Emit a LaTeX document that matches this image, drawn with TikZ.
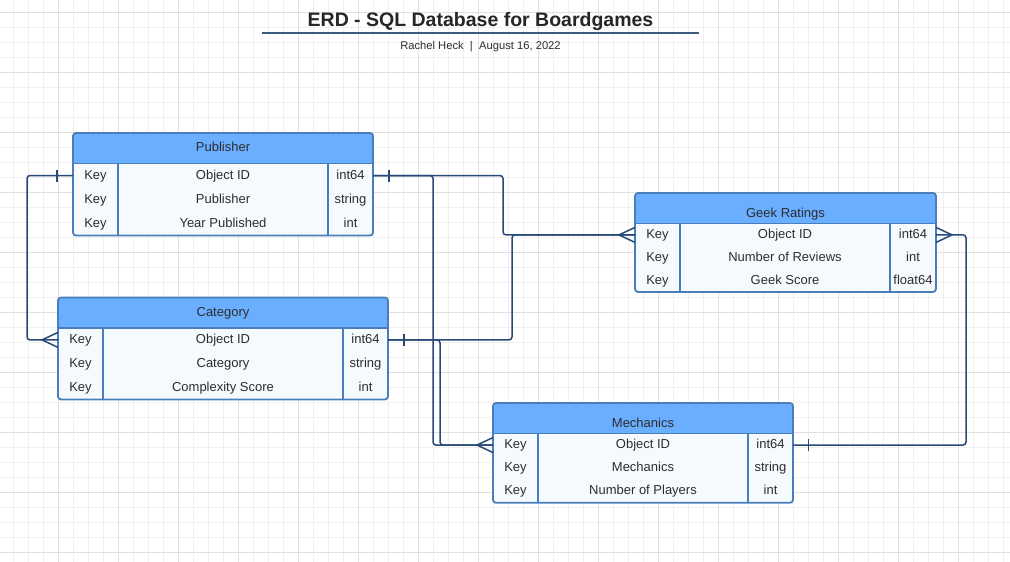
\documentclass[tikz,border=0pt]{standalone}
\usepackage{fontspec}
\setmainfont{Liberation Sans}
\usetikzlibrary{calc}
\definecolor{hdrblue}{RGB}{106,174,255}
\definecolor{bodyblue}{RGB}{245,250,255}
\definecolor{borderblue}{RGB}{73,126,186}
\definecolor{connblue}{RGB}{40,74,118}
\definecolor{titleline}{RGB}{61,91,128}
\definecolor{txtgray}{RGB}{45,45,45}
\definecolor{titlegray}{RGB}{38,38,38}
\definecolor{gridminor}{RGB}{240,240,240}
\definecolor{gridmajor}{RGB}{224,224,224}

\tikzset{
  tablebody/.style={fill=bodyblue, rounded corners=3pt, inner sep=0pt, outer sep=0pt},
  tableline/.style={draw=borderblue, line width=1.6pt},
  tableborder/.style={draw=borderblue, line width=1.8pt, rounded corners=3pt},
  celltext/.style={inner sep=0pt, outer sep=0pt, text=txtgray, font=\fontsize{13}{15}\selectfont, text height=9.5pt, text depth=2.5pt},
  conn/.style={draw=connblue, line width=1.5pt, rounded corners=3pt},
  erdsym/.style={draw=connblue, line width=1.5pt, sharp corners},
}

\newcommand{\erdtable}[8]{%
  \def\eN{#1}\def\eL{#2}\def\eT{#3}\def\eW{#4}\def\eTW{#5}\def\eRH{#6}%
  \pgfmathsetmacro\eH{30.5+3*#6}%
  \pgfmathsetmacro\eR{#2+#4}%
  \pgfmathsetmacro\eHB{#3+30.5}%
  \pgfmathsetmacro\eB{#3+30.5+3*#6}%
  \pgfmathsetmacro\eCa{#2+45}%
  \pgfmathsetmacro\eCb{#2+#4-#5}%
  \node[tablebody, minimum width=#4pt, minimum height=\eH pt, anchor=north west] (#1) at (#2,#3) {};
  \begin{scope}
    \clip[rounded corners=3pt] (#1.north west) rectangle (#1.south east);
    \fill[hdrblue] (#2,#3) rectangle (\eR,\eHB);
  \end{scope}
  \draw[tableline] (#2,\eHB) -- (\eR,\eHB);
  \draw[tableline] (\eCa,\eHB) -- (\eCa,\eB);
  \draw[tableline] (\eCb,\eHB) -- (\eCb,\eB);
  \draw[tableborder] (#1.north west) rectangle (#1.south east);
  \pgfmathsetmacro\eTY{#3+15.25+#7}%
  \pgfmathsetmacro\eTX{#2+#4/2}%
  \node[celltext] (#1-title) at (\eTX,\eTY) {#8};
}

\newcommand{\erdrow}[3]{%
  \pgfmathsetmacro\eY{\eT+30.5+(#1-0.5)*\eRH}%
  \pgfmathsetmacro\eFW{\eW-45-\eTW}%
  \pgfmathsetmacro\eKX{\eL+22.5}%
  \pgfmathsetmacro\eFX{(\eCa+\eCb)/2}%
  \pgfmathsetmacro\eTXX{\eR-\eTW/2}%
  \node[celltext, minimum width=45pt, minimum height=\eRH pt] (\eN-k#1) at (\eKX,\eY) {Key};
  \node[celltext, minimum width=\eFW pt, minimum height=\eRH pt] (\eN-f#1) at (\eFX,\eY) {#2};
  \node[celltext, minimum width=\eTW pt, minimum height=\eRH pt] (\eN-t#1) at (\eTXX,\eY) {#3};
}

\begin{document}
\begin{tikzpicture}[x=1pt,y=-1pt]
\useasboundingbox (0,0) rectangle (1010,562);
\fill[white] (0,0) rectangle (1010,562);
% grid
\foreach \gx in {13,28,...,1003} \draw[gridminor, line width=1pt] (\gx,0) -- (\gx,562);
\foreach \gy in {12,27,...,557} \draw[gridminor, line width=1pt] (0,\gy) -- (1010,\gy);
\foreach \gx in {58,118,...,958} \draw[gridmajor, line width=1pt] (\gx,0) -- (\gx,562);
\foreach \gy in {12,72,...,552} \draw[gridmajor, line width=1pt] (0,\gy) -- (1010,\gy);

% title
\node[anchor=base, inner sep=0pt, text=titlegray, font=\fontsize{19.5}{22}\selectfont\bfseries] (title) at (480.5,26.7) {ERD - SQL Database for Boardgames};
\draw[titleline, line width=1.7pt] (262,33) -- (699,33);
\node[anchor=base, inner sep=0pt, text=txtgray, font=\fontsize{11.2}{13}\selectfont] (subtitle) at (480.5,49) {Rachel Heck~~|~~August 16, 2022};

% tables
\erdtable{pub}{73}{133}{300}{45}{24}{0}{Publisher}
\erdrow{1}{Object ID}{int64}
\erdrow{2}{Publisher}{string}
\erdrow{3}{Year Published}{int}

\erdtable{cat}{58}{297.5}{330}{45}{23.8}{0}{Category}
\erdrow{1}{Object ID}{int64}
\erdrow{2}{Category}{string}
\erdrow{3}{Complexity Score}{int}

\erdtable{geek}{635}{193}{301}{46}{22.8}{6}{Geek Ratings}
\erdrow{1}{Object ID}{int64}
\erdrow{2}{Number of Reviews}{int}
\erdrow{3}{Geek Score}{float64}

\erdtable{mech}{493}{403}{300}{45}{23.1}{6}{Mechanics}
\erdrow{1}{Object ID}{int64}
\erdrow{2}{Mechanics}{string}
\erdrow{3}{Number of Players}{int}

% connectors
\draw[conn] (pub-k1.west) -- ++(-46,0) |- (cat-k1.west);
\draw[conn] (pub-t1.east) -| ([xshift=-132pt]geek-k1.west) -- (geek-k1.west);
\draw[conn] (pub-t1.east) -| ([xshift=-60pt]mech-k1.west) -- (mech-k1.west);
\draw[conn] (cat-t1.east) -| ([xshift=-123pt]geek-k1.west) -- (geek-k1.west);
\draw[conn] (cat-t1.east) -| ([xshift=-53pt]mech-k1.west) -- (mech-k1.west);
\draw[conn] (geek-t1.east) -| ([xshift=173pt]mech-t1.east) -- (mech-t1.east);

% one-bars
\draw[erdsym] ([xshift=-16pt,yshift=6pt]pub-k1.west) -- ([xshift=-16pt,yshift=-6pt]pub-k1.west);
\draw[erdsym] ([xshift=16pt,yshift=6pt]pub-t1.east) -- ([xshift=16pt,yshift=-6pt]pub-t1.east);
\draw[erdsym] ([xshift=16pt,yshift=6pt]cat-t1.east) -- ([xshift=16pt,yshift=-6pt]cat-t1.east);
\draw[erdsym] ([xshift=15.5pt,yshift=6pt]mech-t1.east) -- ([xshift=15.5pt,yshift=-6pt]mech-t1.east);

% crow's feet
\draw[erdsym] ([yshift=7.5pt]cat-k1.west) -- ([xshift=-16pt]cat-k1.west) -- ([yshift=-7.5pt]cat-k1.west);
\draw[erdsym] ([yshift=7.5pt]geek-k1.west) -- ([xshift=-16pt]geek-k1.west) -- ([yshift=-7.5pt]geek-k1.west);
\draw[erdsym] ([yshift=7.5pt]mech-k1.west) -- ([xshift=-16pt]mech-k1.west) -- ([yshift=-7.5pt]mech-k1.west);
\draw[erdsym] ([yshift=7.5pt]geek-t1.east) -- ([xshift=16pt]geek-t1.east) -- ([yshift=-7.5pt]geek-t1.east);
\end{tikzpicture}
\end{document}
